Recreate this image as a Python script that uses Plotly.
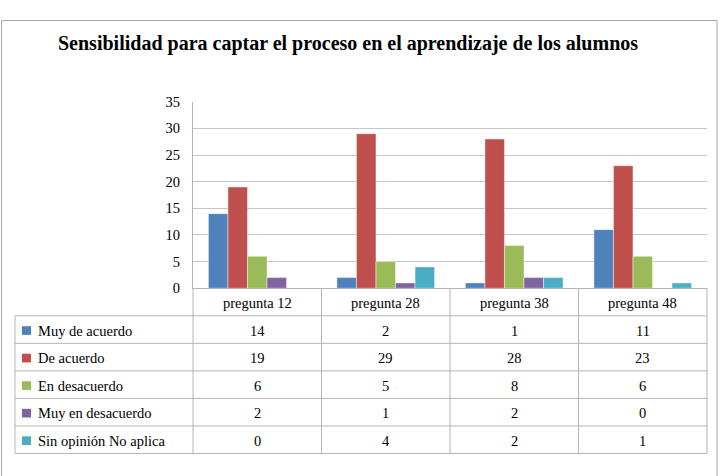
import plotly.graph_objects as go

categories = ["pregunta 12", "pregunta 28", "pregunta 38", "pregunta 48"]
series_names = ["Muy de acuerdo", "De acuerdo", "En desacuerdo", "Muy en desacuerdo", "Sin opinión No aplica"]
muy_de_acuerdo = [14, 2, 1, 11]
de_acuerdo = [19, 29, 28, 23]
en_desacuerdo = [6, 5, 8, 6]
muy_en_desacuerdo = [2, 1, 2, 0]
sin_opinion = [0, 4, 2, 1]
series_values = [muy_de_acuerdo, de_acuerdo, en_desacuerdo, muy_en_desacuerdo, sin_opinion]
colors = ["#4F81BD", "#C0504D", "#9BBB59", "#8064A2", "#4BACC6"]
title = "Sensibilidad para captar el proceso en el aprendizaje de los alumnos"

W, H = 724, 476
FONT = "Times New Roman"
GRID = "#c6c6c6"
LINE = "#b4b4b4"

def px(x):
    return x / W

def py(y):
    return 1 - y / H

plot_l, plot_r = 193, 707
plot_t, plot_b = 97, 290
row_h = 28.5
table_l = 15

fig = go.Figure()
for name, vals, c in zip(series_names, series_values, colors):
    fig.add_trace(go.Bar(
        x=categories, y=vals, name=name,
        marker=dict(color=c, line=dict(color="rgba(255,255,255,0.55)", width=0.8)),
        showlegend=False, hoverinfo="skip",
    ))

fig.update_layout(
    width=W, height=H,
    margin=dict(l=0, r=0, t=0, b=0),
    paper_bgcolor="white", plot_bgcolor="white",
    barmode="group", bargap=0.24, bargroupgap=0,
    font=dict(family=FONT, size=14, color="black"),
    xaxis=dict(domain=[px(plot_l), px(plot_r)], showticklabels=False,
               showline=True, linecolor=LINE, linewidth=1, showgrid=False,
               zeroline=False, fixedrange=True),
    yaxis=dict(domain=[py(plot_b), py(plot_t)], range=[0, 35], dtick=5,
               showgrid=True, gridcolor=GRID, gridwidth=1,
               showline=True, linecolor=LINE, linewidth=1, zeroline=False,
               ticklabelstandoff=9, tickfont=dict(family=FONT, size=14.5),
               fixedrange=True),
)

shapes = []
# outer border
shapes.append(dict(type="rect", xref="paper", yref="paper",
                   x0=px(1.5), x1=px(717), y0=py(485), y1=py(13),
                   line=dict(color="#a6a6a6", width=1), fillcolor="rgba(0,0,0,0)"))
n_rows = len(series_names)
table_b = plot_b + row_h * (n_rows + 1)
# horizontal table lines
for k in range(1, n_rows + 2):
    yy = plot_b + row_h * k
    shapes.append(dict(type="line", xref="paper", yref="paper",
                       x0=px(table_l), x1=px(plot_r), y0=py(yy), y1=py(yy),
                       line=dict(color=LINE, width=1)))
# vertical table lines
col_w = (plot_r - plot_l) / len(categories)
shapes.append(dict(type="line", xref="paper", yref="paper",
                   x0=px(table_l), x1=px(table_l), y0=py(plot_b + row_h), y1=py(table_b),
                   line=dict(color=LINE, width=1)))
for i in range(len(categories) + 1):
    xx = plot_l + col_w * i
    shapes.append(dict(type="line", xref="paper", yref="paper",
                       x0=px(xx), x1=px(xx), y0=py(plot_b), y1=py(table_b),
                       line=dict(color=LINE, width=1)))
# legend keys
for r, c in enumerate(colors):
    yc = plot_b + row_h * (r + 1.5) + 1
    shapes.append(dict(type="rect", xref="paper", yref="paper",
                       x0=px(22), x1=px(31), y0=py(yc + 4.5), y1=py(yc - 4.5),
                       line=dict(width=0), fillcolor=c))

annotations = []
annotations.append(dict(text="<b>" + title + "</b>", xref="paper", yref="paper",
                        x=px(56), y=py(36.5), xanchor="left", yanchor="middle",
                        showarrow=False, font=dict(family=FONT, size=20, color="black")))
for i, cat in enumerate(categories):
    xc = plot_l + col_w * (i + 0.5)
    annotations.append(dict(text=cat, xref="paper", yref="paper",
                            x=px(xc), y=py(plot_b + row_h * 0.5 + 1),
                            xanchor="center", yanchor="middle", showarrow=False,
                            font=dict(family=FONT, size=14.5)))
for r, (name, vals) in enumerate(zip(series_names, series_values)):
    yc = plot_b + row_h * (r + 1.5) + 1
    annotations.append(dict(text=name, xref="paper", yref="paper",
                            x=px(36), y=py(yc), xanchor="left", yanchor="middle",
                            showarrow=False, font=dict(family=FONT, size=14.5)))
    for i, v in enumerate(vals):
        xc = plot_l + col_w * (i + 0.5)
        annotations.append(dict(text=str(v), xref="paper", yref="paper",
                                x=px(xc), y=py(yc), xanchor="center", yanchor="middle",
                                showarrow=False, font=dict(family=FONT, size=14.5)))

fig.update_layout(shapes=shapes, annotations=annotations)
fig.write_html("out.html",
               config={"displayModeBar": False, "staticPlot": True},
               post_script="document.body.style.margin='0';document.body.style.overflow='hidden';")
